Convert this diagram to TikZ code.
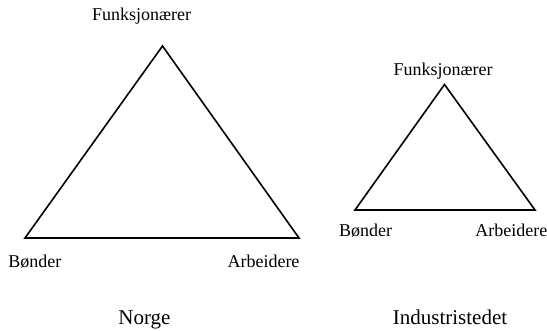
\documentclass[tikz,border=0pt]{standalone}
\usepackage{fontspec}
\setmainfont{Liberation Serif}
\begin{document}
\begin{tikzpicture}[x=1pt,y=-1pt,
  lbl/.style={inner sep=0pt,anchor=base,font=\fontsize{18}{20}\selectfont},
  ttl/.style={inner sep=0pt,anchor=base,font=\fontsize{21}{24}\selectfont},
  edge/.style={line width=1.6pt,line join=miter}]
\useasboundingbox (0,0) rectangle (547,331);
% left triangle
\coordinate (La) at (162.5,46);
\coordinate (Lb) at (25,238);
\coordinate (Lc) at (299,238);
\draw[edge] (La) -- (Lb) -- (Lc) -- cycle;
\node[lbl] (LF) at (141.5,20.5) {Funksjonærer};
\node[lbl] (LB) at (34.8,268) {Bønder};
\node[lbl] (LA) at (263.5,268) {Arbeidere};
\node[ttl] (LN) at (144.5,325) {Norge};
% right triangle
\coordinate (Ra) at (444.5,84.5);
\coordinate (Rb) at (355,210);
\coordinate (Rc) at (535,210);
\draw[edge] (Ra) -- (Rb) -- (Rc) -- cycle;
\node[lbl] (RF) at (443,76) {Funksjonærer};
\node[lbl] (RB) at (365.5,237) {Bønder};
\node[lbl] (RA) at (511.3,237) {Arbeidere};
\node[ttl] (RI) at (450,325) {Industristedet};
\end{tikzpicture}
\end{document}
